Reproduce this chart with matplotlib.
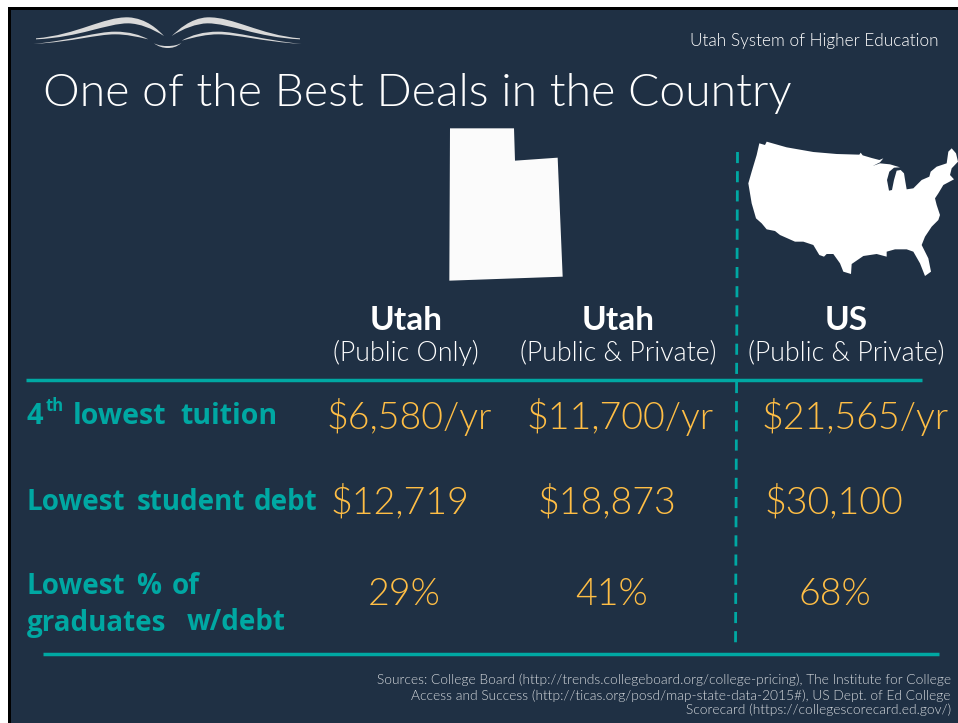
import matplotlib
matplotlib.use('Agg')
import matplotlib.pyplot as plt
from matplotlib.patches import Polygon, PathPatch, Rectangle
from matplotlib.path import Path

BG = '#1f3044'
TEAL = '#00a8a3'
GOLD = '#ffbe45'
FONT = 'Lato'

columns = ['Utah', 'Utah', 'US']
column_notes = ['(Public Only)', '(Public & Private)', '(Public & Private)']
tuition = ['$6,580/yr', '$11,700/yr', '$21,565/yr']
debt = ['$12,719', '$18,873', '$30,100']
pct_debt = ['29%', '41%', '68%']
source_lines = ['Sources: College Board (http://trends.collegeboard.org/college-pricing), The Institute for College',
                'Access and Success (http://ticas.org/posd/map-state-data-2015#), US Dept. of Ed College',
                'Scorecard (https://collegescorecard.ed.gov/)']

# row label words with their left edges, the slide spaces them out a lot
label_words = [('lowest', 73, 416), ('tuition', 180, 416),
               ('Lowest', 27, 502), ('student', 137, 502), ('debt', 254, 502),
               ('Lowest', 27, 586), ('%', 136, 586), ('of', 172, 586),
               ('graduates', 27, 623), ('w/debt', 187, 623)]

# outlines, in 3x zoom pixels
utah_outline = [(60, 25), (252, 25), (255, 122), (383, 113), (398, 470), (58, 482)]
us_outline = [(118, 40), (135, 45), (140, 35), (200, 52), (280, 66), (350, 72), (418, 74), (422, 68),
              (428, 76), (455, 84), (478, 90), (490, 85), (480, 97), (458, 108), (480, 100), (510, 103),
              (540, 112), (522, 113), (508, 125), (501, 150), (507, 182), (516, 180), (522, 150), (530, 122),
              (542, 120), (552, 130), (556, 155), (560, 178), (580, 175), (605, 150), (628, 140), (632, 125),
              (650, 110), (680, 100), (685, 65), (695, 55), (708, 70), (714, 95), (695, 115), (690, 135),
              (702, 148), (670, 165), (655, 190), (645, 205), (650, 225), (660, 255), (655, 270), (635, 290),
              (615, 320), (605, 345), (625, 385), (633, 425), (615, 438), (600, 400), (580, 365), (560, 358),
              (525, 358), (500, 365), (500, 380), (470, 372), (430, 378), (395, 402), (393, 432), (370, 425),
              (360, 400), (340, 372), (320, 372), (312, 380), (298, 375), (280, 345), (250, 335), (225, 335),
              (180, 315), (165, 303), (140, 298), (125, 280), (108, 265), (95, 220), (85, 160), (95, 125),
              (110, 75)]
book_wings = [
    [(108, 115), (230, 105), (310, 50), (385, 52), (440, 55), (475, 90), (492, 108),
     (455, 85), (420, 71), (385, 70), (320, 70), (240, 112), (108, 118)],
    [(900, 115), (780, 105), (700, 50), (622, 52), (570, 55), (535, 90), (515, 108),
     (550, 85), (590, 71), (622, 70), (690, 70), (770, 112), (900, 118)],
    [(100, 132), (220, 120), (290, 95), (345, 95), (390, 95), (420, 105), (445, 118),
     (410, 110), (380, 103), (345, 103), (290, 103), (220, 125), (100, 132)],
    [(905, 132), (790, 120), (710, 95), (655, 95), (610, 95), (575, 105), (545, 122),
     (590, 110), (620, 103), (655, 103), (710, 103), (790, 125), (905, 132)],
    [(462, 130), (480, 138), (490, 138), (503, 138), (520, 138), (535, 135), (545, 128),
     (530, 142), (515, 144), (503, 144), (490, 144), (475, 140), (462, 130)],
]

fig = plt.figure(figsize=(9.58, 7.23), dpi=100, facecolor='white')
ax = fig.add_axes([0, 0, 1, 1])
ax.set_xlim(0, 958)
ax.set_ylim(723, 0)
ax.axis('off')

ax.add_patch(Rectangle((8, 7), 950, 716, color='black', lw=0))
ax.add_patch(Rectangle((11, 10), 947, 713, color=BG, lw=0))

# book logo
for w in book_wings:
    verts = [(x / 3, y / 3) for x, y in w] + [(w[0][0] / 3, w[0][1] / 3)]
    codes = [Path.MOVETO] + [Path.CURVE4] * (len(w) - 1) + [Path.CLOSEPOLY]
    ax.add_patch(PathPatch(Path(verts, codes), fc='#d9d9d9', ec='none'))

ax.text(939, 41, 'Utah System of Higher Education', color='white', fontsize=12.4, family=FONT,
        weight=300, ha='right', va='center')
ax.text(43, 93, 'One of the Best Deals in the Country', color='white', fontsize=33.4, family=FONT,
        weight=300, ha='left', va='center')

ax.add_patch(Polygon([(430 + x / 3, 120 + y / 3) for x, y in utah_outline], fc='#fbfbfb', ec='none'))
ax.add_patch(Polygon([(720 + x / 3, 130 + y / 3) for x, y in us_outline], fc='white', ec='none'))

ax.plot([26, 922], [380, 380], color=TEAL, lw=2.5, solid_capstyle='butt')
ax.plot([43, 939], [654, 654], color=TEAL, lw=2.5, solid_capstyle='butt')
ax.plot([737.5, 735.5], [152, 650], color=TEAL, lw=2, dashes=(4, 2.9))

col_x = [406, 618, 846]
for x, name, note in zip(col_x, columns, column_notes):
    ax.text(x, 321, name, color='white', fontsize=24, family=FONT, weight='bold', ha='center', va='center')
    ax.text(x, 353, note, color='white', fontsize=19.3, family=FONT, weight=300, ha='center', va='center')

tuition_x = [409, 620, 855]
debt_x = [400, 607, 834]
pct_x = [404, 612, 835]
for x, v in zip(tuition_x, tuition):
    ax.text(x, 417, v, color=GOLD, fontsize=27, family=FONT, weight=300, ha='center', va='center')
for x, v in zip(debt_x, debt):
    ax.text(x, 502, v, color=GOLD, fontsize=27, family=FONT, weight=300, ha='center', va='center')
for x, v in zip(pct_x, pct_debt):
    ax.text(x, 595, v, color=GOLD, fontsize=27, family=FONT, weight=300, ha='center', va='center')

ax.text(27, 416, '4', color=TEAL, fontsize=21, family='Open Sans', weight='bold', ha='left', va='center')
ax.text(46, 406, 'th', color=TEAL, fontsize=12, family='Open Sans', weight='bold', ha='left', va='center')
for word, x, y in label_words:
    size = 20.5 if y == 416 else 20
    ax.text(x, y, word, color=TEAL, fontsize=size, family='Open Sans', weight='bold', ha='left', va='center')

for y, line in zip([680, 696, 710], source_lines):
    ax.text(951, y, line, color='#d5d9dd', fontsize=9.9, family=FONT, weight=300, ha='right', va='center')

fig.savefig('out.png', dpi=100, facecolor=fig.get_facecolor())
